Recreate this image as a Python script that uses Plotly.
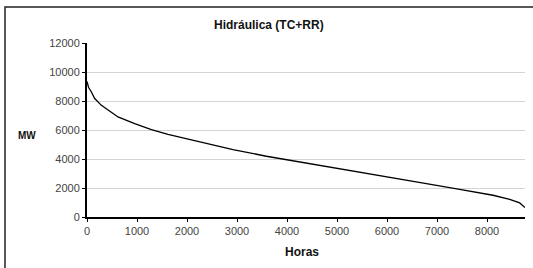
import plotly.graph_objects as go

hours = [0, 30, 88, 154, 288, 420, 620, 954, 1288, 1620, 2088, 2254, 2920, 3588,
         4254, 4920, 5454, 6120, 6788, 7454, 8120, 8454, 8654, 8760]
mw = [9350, 8950, 8620, 8170, 7700, 7360, 6900, 6440, 6030, 5700, 5340, 5170, 4650, 4190,
      3790, 3380, 3060, 2650, 2300, 1910, 1500, 1220, 970, 650]

x_ticks = [0, 1000, 2000, 3000, 4000, 5000, 6000, 7000, 8000]
y_ticks = [0, 2000, 4000, 6000, 8000, 10000, 12000]

title_text = "Hidráulica (TC+RR)"
x_title = "Horas"
y_title = "MW"

W, H = 533, 268
L, R, T, B = 87, 8, 43, 51
pw, ph = W - L - R, H - T - B

def px(xp):
    return (xp - L) / pw

def py(yp):
    return (H - B - yp) / ph

fig = go.Figure()
fig.add_trace(go.Scatter(x=hours, y=mw, mode="lines",
                         line=dict(color="black", width=1.3), showlegend=False,
                         hoverinfo="skip"))

fam = "Liberation Sans, Arial, sans-serif"
font = dict(family=fam, size=11, color="#444")
fig.update_layout(
    width=W, height=H,
    margin=dict(l=L, r=R, t=T, b=B, autoexpand=False),
    paper_bgcolor="white", plot_bgcolor="white",
    font=font,
    xaxis=dict(range=[0, 8760], tickvals=x_ticks, ticktext=[str(v) for v in x_ticks],
               showgrid=False, zeroline=False, showline=True, linecolor="black",
               linewidth=2, ticks="outside", ticklen=3, tickcolor="black",
               tickfont=font, automargin=False),
    yaxis=dict(range=[0, 12000], tickvals=y_ticks, ticktext=[str(v) for v in y_ticks],
               showgrid=True, gridcolor="#d4d4d4", gridwidth=1, zeroline=False,
               showline=True, linecolor="black", linewidth=2, ticks="outside",
               ticklen=3, tickcolor="black", tickfont=font, automargin=False),
    shapes=[dict(type="rect", xref="paper", yref="paper",
                 x0=px(5), x1=px(545), y0=py(290), y1=py(7),
                 line=dict(color="#222", width=1.5), fillcolor="rgba(0,0,0,0)",
                 layer="below")],
    annotations=[
        dict(text="<b>" + title_text + "</b>", xref="paper", yref="paper",
             x=px(269), y=py(25), showarrow=False, xanchor="center", yanchor="middle",
             font=dict(family=fam, size=12, color="#111")),
        dict(text="<b>" + x_title + "</b>", xref="paper", yref="paper",
             x=px(302), y=py(252), showarrow=False, xanchor="center", yanchor="middle",
             font=dict(family=fam, size=12, color="#111")),
        dict(text="<b>" + y_title + "</b>", xref="paper", yref="paper",
             x=px(27), y=py(135), showarrow=False, xanchor="center", yanchor="middle",
             font=dict(family=fam, size=10, color="#111")),
    ],
)

fig.write_html("out.html", config={"displayModeBar": False},
               post_script="document.body.style.margin='0';")
